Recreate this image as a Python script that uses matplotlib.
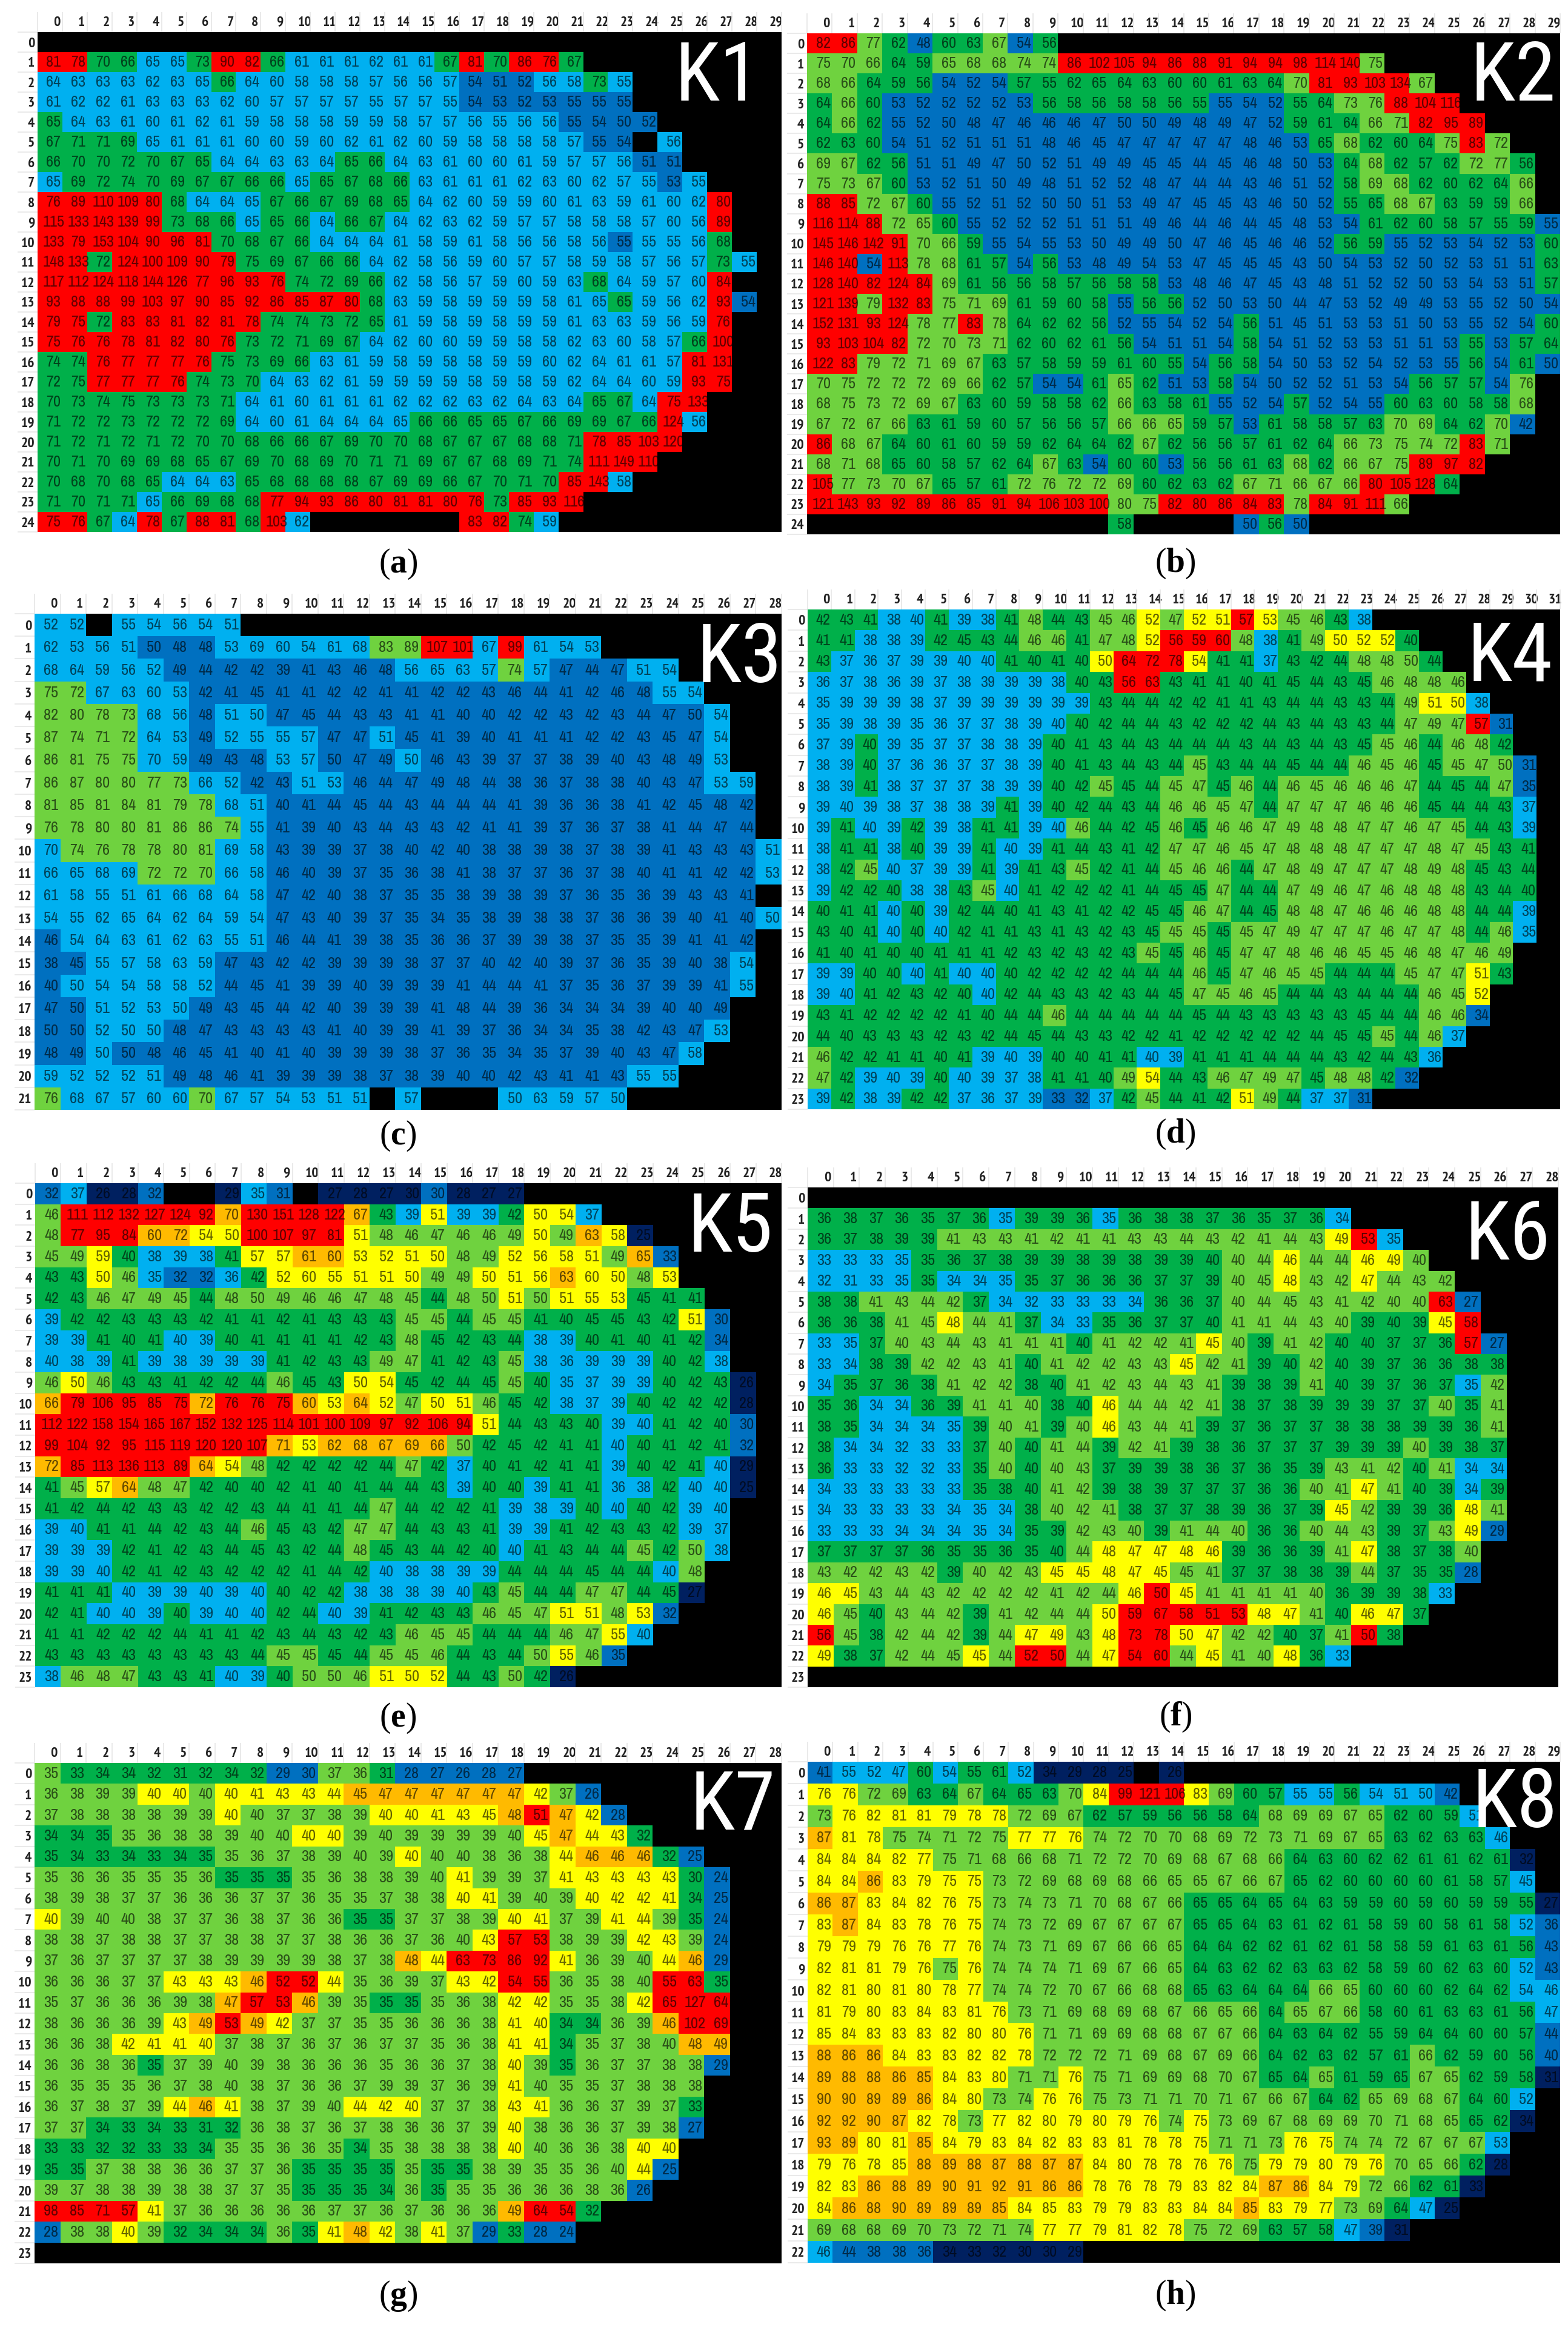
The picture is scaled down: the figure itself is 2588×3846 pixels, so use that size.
import numpy as np
import matplotlib
matplotlib.use("Agg")
import matplotlib.pyplot as plt
from matplotlib.colors import ListedColormap, BoundaryNorm
import logging
logging.getLogger('matplotlib.font_manager').setLevel(logging.ERROR)

NARROW = ['Archivo Narrow', 'PT Sans Narrow', 'Liberation Sans', 'DejaVu Sans']
NARROW_BOLD = ['PT Sans Narrow', 'Archivo Narrow', 'Liberation Sans', 'DejaVu Sans']
THIN = ['Roboto Condensed', 'Archivo Narrow', 'Liberation Sans', 'DejaVu Sans']
plt.rcParams['font.family'] = NARROW
plt.rcParams['mathtext.fontset'] = 'custom'
plt.rcParams['mathtext.rm'] = 'Liberation Serif'
plt.rcParams['mathtext.bf'] = 'Liberation Serif:bold'

# A value of 0 is an empty (black) cell. Fractions keep the colour class of values that print alike.
K1 = [
[],
[81,78,70,66,64.6,64.6,73,90,82,66,61,61,61,62,61,61,67,81,70,86,76,67],
[64,63,63,63,62,63,64.6,66,64,60,58,58,58,57,56,56,57,54,51,52,56,58,73,55],
[61,62,62,61,63,63,63,62,60,57,57,57,57,55,57,57,55,54,53,52,53,54.6,54.6,54.6],
[65,64,63,61,60,61,62,61,59,58,58,58,59,59,58,57,57,56,55,56,56,54.6,54,50,52],
[67,71,71,69,64.6,61,61,61,60,60,59,60,62,61,62,60,59,58,58,58,58,57,54.6,54,0,56],
[66,70,70,72,70,67,65,64,64,63,63,64,65,66,64,63,61,60,60,61,59,57,57,56,51,51],
[64.6,69,72,74,70,69,67,67,66,66,64.6,65,67,68,66,63,61,61,61,62,63,60,62,57,55,53,55],
[76,89,110,109,80,68,64,64,64.6,67,66,67,69,68,65,64,62,60,59,59,60,61,63,59,61,60,62,80],
[115,133,143,139,99,73,68,66,64.6,65,66,64,66,67,64,62,63,62,59,57,57,58,58,58,57,60,56,89],
[133,79,153,104,90,96,81,70,68,67,66,64,64,64,61,58,59,61,58,56,56,58,56,54.6,55,55,56,68],
[148,133,72,124,100,109,90,79,74.6,69,67,66,66,64,62,58,56,59,60,57,57,58,59,58,57,56,57,73,55],
[117,112,124,118,144,126,77,96,93,76,74,72,69,66,62,58,56,57,59,60,59,63,68,64,59,57,60,84],
[93,88,88,99,103,97,90,85,92,86,85,87,80,68,63,59,58,59,59,59,58,61,64.6,65,59,56,62,93,54],
[79,75,72,83,83,81,82,81,78,74,74,73,72,65,61,59,58,59,58,59,59,61,63,63,59,56,59,76],
[75,76,76,78,81,82,80,76,73,72,71,69,67,64,62,60,60,59,59,58,58,62,63,60,58,57,66,100],
[74,74,76,77,77,77,76,74.6,73,69,66,63,61,59,58,59,58,58,59,59,60,62,64,61,61,57,81,131],
[72,74.6,77,77,77,76,74,73,70,64,63,62,61,59,59,59,59,58,59,58,59,62,64,64,60,59,93,75],
[70,73,74,74.6,73,73,73,71,64,61,60,61,61,61,62,62,62,63,62,64,63,64,65,67,64,75,133],
[71,72,72,73,72,72,72,69,64,60,61,64,64,64,64.6,66,66,65,65,67,66,69,69,67,66,124,56],
[71,72,71,72,71,72,70,70,68,66,66,67,69,70,70,68,67,67,67,68,68,71,78,85,103,120],
[70,71,70,69,69,68,65,67,69,70,68,69,70,71,71,69,67,67,68,69,71,74,111,149,110],
[70,68,70,68,65,64,64,63,65,68,68,68,68,67,69,69,66,67,70,71,70,85,143,58],
[71,70,71,71,64.6,66,69,68,68,77,94,93,86,80,81,81,80,76,73,85,93,116],
[75,76,67,64,78,67,88,81,68,103,62,0,0,0,0,0,0,83,82,74,59],
]
K2 = [
[82,86,77,62,48,60,63,67,54,56],
[75,70,66,64,59,65,68,68,74,74,86,102,105,94,86,88,91,94,94,98,114,140,75],
[68,66,64,59,56,54,52,54,57,55.4,62,64.6,64,63,60,60,61,63,64,70,81,93,103,134,67],
[64,66,60,53,52,52,52,52,53,56,58,56,58,58,56,55.4,55,54,52,55.4,64,73,76,88,104,116],
[64,66,62,55,52,50,48,47,46,46,46,47,50,50,49,48,49,47,52,59,61,64,66,71,82,95,89],
[62,63,60,54,51,52,51,51,51,48,46,45,47,47,47,47,47,48,46,53,64.6,68,62,60,64,75,83,72],
[69,67,62,56,51,51,49,47,50,52,51,49,49,45,45,44,45,46,48,50,53,64,68,62,57,62,72,77,56],
[75,73,67,60,53,52,51,50,49,48,51,52,52,48,47,44,44,43,46,51,52,58,69,68,62,60,62,64,66],
[88,85,72,67,60,55,52,51,52,50,50,51,53,49,47,45,45,43,46,50,52,55.4,64.6,68,67,63,59,59,66],
[116,114,88,72,65,60,55,52,52,52,51,51,51,49,46,44,46,44,45,48,53,54,61,62,60,58,57,55.4,59,55],
[145,146,142,91,70,66,59,55,54,55,53,50,49,49,50,47,46,45,46,46,52,56,59,55,52,53,54,52,53,60],
[146,140,54,113,78,68,61,57,54,56,53,48,49,54,53,47,45,45,45,43,50,54,53,52,50,52,53,51,51,63],
[128,140,82,124,84,69,61,56,56,58,57,56,58,58,53,48,46,47,45,43,48,51,52,52,50,53,54,53,51,57],
[121,139,79,132,83,75,71,69,61,59,60,58,55,56,56,52,50,53,50,44,47,53,52,49,49,53,55,52,50,54],
[152,131,93,124,78,77,83,78,64,62,62,56,52,55,54,52,54,56,51,45,51,53,53,51,50,53,55,52,54,60],
[93,103,104,82,72,70,73,71,62,60,62,61,56,54,51,51,54,58,54,51,52,53,53,51,51,53,55.4,53,57,64],
[122,83,79,72,71,69,67,63,57,58,59,59,61,60,55.4,54,56,58,54,50,53,52,54,52,53,55,56,54,61,50],
[70,75,72,72,72,69,66,62,57,54,54,61,65,62,51,53,58,54,50,52,52,51,53,54,56,57,57,54,76],
[68,75,73,72,69,67,63,60,59,58,58,62,66,63,58,61,55,52,54,57,52,54,55,60,63,60,58,58,68],
[67,72,67,66,63,61,59,60,57,56,56,57,66,66,65,59,57,53,61,58,58,57,63,70,69,64,62,70,42],
[86,68,67,64,60,61,60,59,59,62,64,64,62,67,62,56,56,57,61,62,64,66,73,75,74,72,83,71],
[68,71,68,64.6,60,58,57,62,64,67,63,54,60,60,53,56,56,61,63,68,62,66,67,75,89,97,82],
[105,77,73,70,67,64.6,57,61,72,76,72,72,69,60,62,63,62,67,71,66,67,66,80,105,128,64],
[121,143,93,92,89,86,85,91,94,106,103,100,79.6,75,82,80,86,84,83,78,84,91,111,66],
[0,0,0,0,0,0,0,0,0,0,0,0,58,0,0,0,0,50,56,50],
]
K3 = [
[52,52,0,55,54,56,54,51],
[62,53,56,51,49.6,48,48,53,69,60,54,61,68,83,89,107,101,67,99,61,54,53],
[68,64,59,56,52,49,44,42,42,39,41,43,46,48,56,65,63,57,74,57,47,44,47,51,54],
[75,72,67,63,60,53,42,41,45,41,41,42,42,41,41,42,42,43,46,44,41,42,46,48,55,54],
[82,80,78,73,68,56,48,51,50,47,45,44,43,43,41,41,40,40,42,42,43,42,43,44,47,49.6,54],
[87,74,71,72,64,53,49,52,55,55,57,47,47,51,45,41,39,40,41,41,41,42,42,43,45,47,54],
[86,81,75,75,69.6,59,49,43,48,53,57,49.6,47,49,50,46,43,39,37,37,38,39,40,43,48,49,53],
[86,87,80,80,77,73,66,52,42,43,51,53,46,44,47,49,48,44,38,36,37,38,38,40,43,47,53,59],
[81,85,81,84,81,79,78,68,51,40,41,44,45,44,43,44,44,44,41,39,36,36,38,41,42,45,48,42],
[76,78,80,80,81,86,86,74,55,41,39,40,43,44,43,43,42,41,41,39,37,36,37,38,41,44,47,44],
[69.6,74,76,78,78,80,81,69,58,43,39,39,37,38,40,42,40,38,38,39,38,37,38,39,41,43,43,43,51],
[66,65,68,69,72,72,70,66,58,46,40,39,37,35,36,38,41,38,37,37,36,37,38,40,41,41,42,42,53],
[61,58,55,51,61,66,68,64,58,47,42,40,38,37,35,35,38,39,38,39,37,36,35,36,39,43,43,41],
[54,55,62,65,64,62,64,59,54,47,43,40,39,37,35,34,35,38,39,38,38,37,36,36,39,40,41,40,50],
[46,54,64,63,61,62,63,55,51,46,44,41,39,38,35,36,36,37,39,39,38,37,35,35,39,41,41,42],
[38,45,55,57,58,63,59,47,43,42,42,39,39,39,38,37,37,40,42,40,39,37,36,35,39,40,38,54],
[40,50,54,54,58,58,52,44,45,41,39,39,40,39,39,39,41,44,44,41,37,35,36,37,39,39,41,55],
[47,49.6,51,52,53,50,49,43,45,44,42,40,39,39,39,41,48,44,39,36,34,34,34,39,40,40,49],
[49.6,49.6,52,50,50,48,47,43,43,43,43,41,40,39,39,41,39,37,36,34,34,35,38,42,43,47,53],
[48,49,50,49.6,48,46,45,41,40,41,40,39,39,39,38,37,36,35,34,35,37,39,40,43,47,58],
[59,52,52,52,51,49,48,46,41,39,39,39,38,37,38,39,40,40,42,43,41,41,43,55,55],
[76,68,67,57,60,60,70,67,57,54,53,51,51,0,57,0,0,0,50,63,59,57,50],
]
K4 = [
[42,43,41,38,39.6,41,39,38,41,48,44,43,45,46,52,47,52,51,57,53,45,46,43,38],
[41,41,38,38,39,42,44.6,43,44,46,46,41,47,48,52,56,59,60,48,38,41,49,50,52,52,40],
[43,37,36,37,39,39,39.6,39.6,41,40,41,40,50,64,72,78,54,41,41,37,43,42,44,48,48,49.6,44],
[36,37,38,36,39,37,38,39,39,39,38,40,43,56,63,43,41,41,40,41,44.6,44,43,44.6,46,48,48,46],
[35,39,39,39,38,37,39,39,39,39,39,39,43,44,44,42,42,41,41,43,44,44,43,43,44,49,51,50,38],
[35,39,38,39,35,36,37,37,38,39,39.6,40,42,44,44,43,42,42,42,44,43,44,43,43,44,47,49,47,57,31],
[37,39,40,39,35,37,37,38,38,39,40,41,43,44,43,44,44,44,43,44,43,44,43,44.6,45,46,44,46,48,42],
[38,39,40,37,36,36,37,37,38,39,40,41,43,44,43,44,45,43,44,44,44.6,44,44,46,45,46,44.6,45,47,49.6,31],
[38,39,41,38,37,37,37,38,39,39,40,42,45,44.6,44,45,47,44.6,46,44,46,45,46,46,46,47,44,44.6,44,47,34.6],
[39,39.6,39,38,37,38,38,39,41,39,40,42,44,43,44,46,46,45,47,44,47,47,47,46,46,46,44.6,44,44,43,37],
[39,41,39.6,39,42,39,38,41,41,39,39.6,46,44,42,44.6,46,44.6,46,46,47,49,48,48,47,47,46,47,45,44,43,39],
[38,41,41,38,40,39,39,41,39.6,39,41,44,43,41,42,47,47,46,45,47,48,48,48,47,47,47,48,47,45,43,41],
[38,42,45,39.6,37,39,39,41,39,41,43,45,42,41,44,45,46,46,44,47,48,49,47,47,47,48,49,48,44.6,43,44],
[39,42,42,40,38,38,43,45,39.6,41,42,42,42,41,44,44.6,44.6,47,44,44,47,49,46,47,46,48,48,48,43,44,40],
[40,41,41,39.6,40,39,42,44,40,41,43,41,42,42,44.6,44.6,46,47,44,44.6,48,48,47,46,46,46,48,48,44,44,39],
[43,40,41,39.6,40,39.6,42,41,41,43,41,43,42,43,44.6,45,45,44.6,45,47,49,47,47,47,46,47,47,48,44,46,35],
[41,40,41,40,40,41,41,41,42,43,42,43,42,43,45,44.6,46,44.6,47,47,48,46,46,45,45,46,48,47,46,49],
[39,39,40,40,39.6,41,39.6,39.6,40,42,42,42,42,44,44,44,46,44.6,47,46,45,45,44,44,44,45,47,47,51,43],
[39,39.6,41,42,43,42,40,39.6,42,44,43,43,42,43,44,44.6,47,45,46,45,44,44,43,44,44,44,46,45,52],
[43,41,42,42,42,42,41,40,44,44,46,44,44,44,44,44,44.6,44,43,43,43,43,43,44.6,44,44,46,46,34],
[44,40,43,43,43,42,43,42,44,44.6,44,43,43,42,42,41,42,42,42,42,42,44,44.6,44.6,45,44,46,37],
[46,42,42,41,41,40,41,39,39.6,39,40,40,41,41,39.6,39,41,41,41,44,44,44,43,42,44,43,36],
[47,42,39,39.6,39,40,39.6,39,37,38,41,41,40,49,54,44,43,46,47,49,47,44.6,48,48,42,32],
[39,42,38,39,42,42,37,36,37,39,33,32,37,42,45,44,41,42,51,49,44,37,37,31],
]
K5 = [
[32,37,26,28,32,0,0,29,35,31,0,27,28,27,29.6,30,28,27,27],
[46,111,112,132,127,124,92,70,130,151,128,122,67,43,39,51,39,39,42,50,54,37],
[48,77,95,84,60,72,54,50,100,107,97,81,51,48,46,47,46,46,49,50,49,63,58,25],
[45,49,59,40,38,39,38,41,57,57,61,60,53,52,51,50,48,49,52,56,58,51,49,65,33],
[43,43,50,46,35,32,32,36,42,52,59.6,55,51,51,50,49,49,50,51,56,63,59.6,50,48,53],
[42,43,46,47,49,45,44,48,49.6,49,46,46,47,48,45,44,48,49.6,51,49.6,51,55,53,44.6,41,41],
[39,42,42,43,43,43,42,41,41,42,41,43,43,43,45,45,44,45,45,41,40,44.6,44.6,43,42,51,30],
[39,39,41,40,41,39.6,39,40,41,41,41,41,42,43,48,44.6,42,43,44,38,39,40,41,40,41,42,34],
[39.6,38,39,41,39,38,39,39,39,41,42,43,43,49,47,41,42,43,45,38,36,39,39,39,40,42,38],
[46,50,46,43,43,41,42,42,44,46,44.6,43,50,54,44.6,42,44,44.6,45,40,35,37,39,39,40,42,43,26],
[66,79,106,95,85,75,72,76,76,75,60,53,64,52,47,50,51,46,44.6,42,38,37,39,40,42,42,42,28],
[112,122,158,154,165,167,152,132,125,114,101,100,109,97,92,106,94,51,44,43,43,40,39,39.6,41,42,40,30],
[99,104,92,95,115,119,120,120,107,71,53,62,68,67,69,66,49.6,42,44.6,42,41,41,39.6,40,41,42,41,32],
[72,85,113,136,113,89,64,54,48,42,42,42,42,44,47,42,37,40,41,42,41,41,39,40,42,41,39.6,29],
[41,45,57,64,48,47,42,40,40,42,41,40,41,44,44,43,39,40,40,39,41,41,36,38,42,39.6,39.6,25],
[41,42,44,42,43,43,42,42,43,44,41,41,44,47,44,42,42,41,39,38,39,40,39.6,40,42,39,39.6],
[39,39.6,41,41,44,42,43,44,46,44.6,43,42,47,47,44,43,43,41,39,39,41,42,43,43,42,39,37],
[39,39,39,42,41,42,43,44,44.6,43,42,44,48,44.6,43,44,42,40,39.6,41,43,44,44,45,42,49.6,38],
[39,39,39.6,42,41,42,43,42,42,42,41,44,42,39.6,38,38,39,39,44,44,44,44.6,44,44,39.6,48],
[41,41,41,39.6,39,39,39.6,39,39.6,40,42,42,38,38,38,39,39.6,43,45,44,44,47,47,44,44.6,27],
[42,41,39.6,39.6,39,40,39,39.6,39.6,42,44,39.6,39,41,42,43,43,46,45,47,51,51,48,53,32],
[41,41,42,42,42,44,41,41,42,43,44,43,42,43,46,45,45,44,44,44,46,47,55,39.6],
[43,43,43,43,43,43,43,43,44,45,45,44.6,44,45,45,46,44,43,44,49.6,55,46,34.6],
[38,46,48,47,43,43,41,39.6,39,40,49.6,49.6,46,51,50,52,44,43,49.6,42,26],
]
K6 = [
[],
[36,38,37,36,35,37,36,34.6,39,39,36,34.6,36,38,38,37,36,35,37,36,34],
[36,37,38,39,39,41,43,43,41,42,41,41,43,43,44,43,42,41,44,43,49,53,34.6],
[33,33,33,34.6,35,36,37,38,39,39,38,39,38,39,39,39.6,40,44,46,44,44,46,49,40],
[32,31,33,34.6,35,34,34,34.6,35,37,36,36,36,37,37,39,40,44.6,48,43,42,47,44,43,42],
[38,38,41,43,44,42,37,34,32,33,33,33,34,36,36,37,40,44,44.6,43,41,42,40,40,63,27],
[36,36,38,41,44.6,48,44,41,37,34,33,35,36,37,37,39.6,41,41,44,43,40,39,39.6,39,45,58],
[33,34.6,37,40,43,44,43,41,41,41,39.6,41,42,42,41,45,40,39,41,42,39.6,39.6,37,37,36,57,27],
[33,34,38,39,42,42,43,41,39.6,41,42,42,43,43,45,42,41,39,39.6,42,39.6,39,37,36,36,38,38],
[34,35,37,36,38,41,42,42,38,39.6,41,42,43,44,43,41,39,38,39,41,39.6,39,37,36,37,34.6,42],
[35,36,34,34,36,39,41,41,40,38,39.6,46,44,44,42,41,38,37,38,39,39,39,37,37,40,35,41],
[38,35,34,34,34,34.6,39,40,41,39,40,46,43,44,41,39,37,36,37,37,38,38,38,39,39,36,41],
[38,34,34,32,33,33,37,40,39.6,41,44,39,42,41,39,38,36,37,37,37,39,39,39,40,39,38,37],
[36,33,33,32,32,33,35,40,39.6,40,43,37,39,39,38,36,37,36,35,39,43,41,42,39.6,41,34,34],
[34,33,33,33,33,33,35,38,39.6,41,42,39,38,39,37,37,37,36,36,40,41,47,41,39.6,39,34,39],
[34,33,33,33,33,34,34.6,34,38,40,42,41,38,37,37,38,39,36,37,39,45,42,39,39,36,48,41],
[33,33,33,34,34,34,34.6,34,35,39,42,43,40,39,41,44,40,36,36,40,44,43,39,37,43,49,29],
[37,37,37,37,36,35,35,36,35,39.6,44,48,47,47,48,46,39,36,36,39,41,47,38,37,38,40],
[43,42,42,43,42,39,40,42,43,45,45,48,47,45,44.6,41,37,37,38,38,39,44,37,35,35,28],
[46,45,43,44,43,42,42,42,42,41,42,44,46,50,45,41,41,41,41,40,36,39,39,38,33],
[46,44.6,39.6,43,44,42,39,41,42,44,44,49.6,59,67,58,51,53,48,47,41,39.6,46,47,37],
[56,44.6,38,42,44,42,39,44,47,49,43,48,73,78,49.6,47,42,42,39.6,37,41,50,38],
[49,38,37,42,44,44.6,45,44,52,50,44,47,54,60,44,45,41,40,48,36,33],
[],
]
K7 = [
[35,33,34,34,32,31,32,34,32,29,29.6,37,36,31,28,27,26,28,27],
[36,38,39,39,40,40,39.6,40,41,43,43,44,45,47,47,47,47,47,47,42,37,26],
[37,38,38,38,38,39,39,40,39.6,37,37,38,39,40,40,41,43,44.6,48,51,47,42,28],
[34,34,34.6,35,36,38,38,39,39.6,39.6,40,40,39,39.6,39,39,39,39,39.6,44.6,47,44,43,32],
[34.6,34,33,34,33,34,34.6,35,36,37,38,39,39.6,39,40,39.6,39.6,38,36,38,44,46,46,46,32,25],
[35,36,36,35,35,35,36,34.6,34.6,34.6,35,36,38,38,39,39.6,41,39,39,37,41,43,43,43,43,30,24],
[38,39,38,37,37,36,36,36,37,37,36,35,35,37,38,38,40,41,39,39.6,39,40,42,42,41,34,25],
[40,39,39.6,39.6,38,37,37,36,38,37,36,36,34.6,34.6,37,37,38,39,40,41,37,39,41,44,39,34.6,24],
[38,38,37,38,38,37,37,38,38,37,37,38,36,36,37,36,39.6,43,57,53,38,39,39,42,43,39,24],
[37,36,37,37,37,37,38,39,39,39,39,38,37,38,48,44,63,73,86,92,41,36,39,39.6,44,46,29],
[36,36,36,37,37,43,43,43,46,52,52,44,35,36,39,37,43,42,54,55,36,35,38,39.6,55,63,34.6],
[35,37,36,36,36,39,38,47,57,53,46,39,35,34.6,34.6,35,36,38,42,42,35,35,38,42,65,127,64],
[38,36,36,36,39,43,49,53,49,42,37,37,35,35,36,36,36,38,41,40,34,34,36,39,46,102,69],
[36,36,38,42,41,41,40,37,38,37,36,37,36,37,37,35,36,38,41,41,34,35,37,38,39.6,48,49],
[36,36,38,36,34.6,37,39,39.6,39,38,36,36,36,35,36,36,37,38,40,39,34.6,36,37,37,38,38,29],
[36,35,35,35,36,37,38,39.6,38,37,36,36,37,39,39,37,36,39,41,39.6,35,35,37,38,38,38],
[36,37,38,37,39,44,46,41,38,37,39,39.6,44,42,40,37,37,38,43,41,36,36,37,39,37,33],
[37,37,34,33,34,33,31,32,36,38,37,36,37,38,36,36,37,39,40,38,36,36,37,39,38,27],
[33,33,32,32,33,33,34,35,35,36,36,35,34,35,38,38,38,38,40,39.6,36,36,38,40,40],
[34.6,34.6,37,38,38,36,36,37,37,36,34.6,34.6,34.6,34.6,35,34.6,34.6,38,39,35,35,36,39.6,44,25],
[39,37,38,38,39,38,38,37,37,35,34.6,34.6,34.6,34,36,34.6,35,35,36,36,36,38,36,26],
[98,85,71,57,41,37,36,36,36,36,36,37,37,36,37,36,36,36,49,64,54,32],
[28,38,38,40,39,32,34,34,34,36,34.6,41,48,42,38,41,37,29,33,28,24],
[],
]
K8 = [
[41,54.6,52,47,60,54,55,61,52,34,29,28,25,0,26],
[76,76,72,69,63,64,67,64,64.6,63,70,84,99,121,106,83,69,60,57,54.6,54.6,56,54,51,50,42],
[73,76,82,81,81,79,78,78,72,69,67,62,57,59,56,56,58,64,68,69,69,67,65,62,60,59,51],
[87,81,78,74.6,74,71,72,74.6,77,77,76,74,72,70,70,68,69,72,73,71,69,67,65,63,62,63,63,46],
[84,84,84,82,77,74.6,71,68,66,68,71,72,72,70,69,68,67,68,66,64,63,60,62,62,61,61,62,61,32],
[84,84,86,83,79,75,75,73,72,69,68,69,68,66,65,65,67,66,67,64.6,62,60,60,60,60,61,58,57,45],
[86,87,83,84,82,76,75,73,74,73,71,70,68,67,66,64.6,64.6,64,64.6,64,63,59,59,60,59,60,59,59,55,27],
[83,87,84,83,78,76,75,74,73,72,69,67,67,67,67,64.6,64.6,64,63,61,62,61,58,59,60,58,61,58,52,36],
[79,79,79,76,76,77,76,74,73,71,69,67,66,66,65,64,64,62,62,61,62,61,58,58,59,61,63,61,56,43],
[82,81,81,79,76,74.6,76,74,74,74,71,69,67,66,65,64,63,62,62,63,63,62,58,59,60,62,63,60,52,43],
[82,81,80,81,80,78,77,74,74,72,70,67,66,68,68,64.6,63,64,64,64,66,65,60,60,60,62,64,62,54,46],
[81,79,80,83,84,83,81,76,73,71,69,68,69,68,67,66,65,66,64,65,67,66,58,60,61,63,63,61,56,47],
[84.6,84,83,83,83,82,80,80,76,71,71,69,69,68,68,67,67,66,64,63,64,62,55,59,64,64,60,60,57,44],
[88,86,86,84,83,83,82,82,78,72,72,72,71,69,68,67,69,66,64,62,63,62,57,61,66,62,59,60,56,40],
[89,88,88,86,85,84,83,80,71,71,76,74.6,71,69,69,68,70,67,64.6,64,65,61,59,64.6,67,65,62,59,58,31],
[90,90,89,89,86,84,80,73,74,76,76,74.6,73,71,71,70,71,67,66,67,64,62,65,69,68,67,64,60,52],
[92,92,90,87,82,78,73,77,82,80,79,80,79,76,74,75,73,69,67,68,69,69,70,71,68,65,64.6,62,34],
[93,89,80,81,85,84,79,83,84,82,83,83,81,78,78,75,71,71,73,76,75,74,74,72,67,67,67,53],
[79,76,78,84.6,88,89,88,87,88,87,87,84,80,78,78,76,76,74.6,79,79,80,79,76,70,65,66,62,28],
[82,83,86,88,89,90,91,92,91,86,86,78,76,78,79,83,82,84,87,86,84,79,72,66,62,61,33],
[84,86,88,90,89,89,89,85,84,84.6,83,79,79,83,83,84,84,85,83,79,77,73,69,64,47,25],
[69,68,68,69,70,73,72,71,74,77,77,79,81,82,78,74.6,72,69,63,57,58,47,39,31],
[46,44,38,38,36,34,33,32,30,30,29],
]

RED, ORANGE, YELLOW = '#FF0000', '#FFBA00', '#FFFF00'
LGREEN, GREEN = '#6FD23F', '#00B04A'
LBLUE, DBLUE, NAVY = '#00B0F0', '#0070C0', '#002060'
TOP = 1000

PANELS = [
 dict(name='K1', cap='a', data=K1, ncols=30, nrows=25, box=(62, 53, 1290, 878), capxy=(657, 931), kxy=(1255, 64),
      bounds=[0, 55, 65, 75, TOP], colors=[DBLUE, LBLUE, GREEN, RED]),
 dict(name='K2', cap='b', data=K2, ncols=30, nrows=25, box=(1332, 55, 2575, 882), capxy=(1940, 930), kxy=(2568, 64),
      bounds=[0, 55.25, 65, 80, TOP], colors=[DBLUE, GREEN, LGREEN, RED]),
 dict(name='K3', cap='c', data=K3, ncols=29, nrows=22, box=(57, 1013, 1290, 1832), capxy=(657, 1875), kxy=(1291, 1024),
      bounds=[0, 50, 70, 95, TOP], colors=[DBLUE, LBLUE, LGREEN, RED]),
 dict(name='K4', cap='d', data=K4, ncols=32, nrows=24, box=(1333, 1006, 2575, 1831), capxy=(1940, 1872), kxy=(2563, 1021),
      bounds=[0, 35, 40, 45, 50, 55, TOP], colors=[DBLUE, LBLUE, GREEN, LGREEN, YELLOW, RED]),
 dict(name='K5', cap='e', data=K5, ncols=29, nrows=24, box=(58, 1953, 1290, 2785), capxy=(657, 2836), kxy=(1276, 1964),
      bounds=[0, 30, 35, 40, 45, 50, 60, 75, TOP], colors=[NAVY, DBLUE, LBLUE, GREEN, LGREEN, YELLOW, ORANGE, RED]),
 dict(name='K6', cap='f', data=K6, ncols=29, nrows=24, box=(1333, 1960, 2572, 2785), capxy=(1940, 2834), kxy=(2559, 1977),
      bounds=[0, 30, 35, 40, 45, 50, TOP], colors=[DBLUE, LBLUE, GREEN, LGREEN, YELLOW, RED]),
 dict(name='K7', cap='g', data=K7, ncols=29, nrows=24, box=(57, 2910, 1290, 3736), capxy=(657, 3790), kxy=(1280, 2917),
      bounds=[0, 30, 35, 40, 45, 50, TOP], colors=[DBLUE, GREEN, LGREEN, YELLOW, ORANGE, RED]),
 dict(name='K8', cap='h', data=K8, ncols=30, nrows=23, box=(1333, 2908, 2575, 3735), capxy=(1940, 3789), kxy=(2571, 2914),
      bounds=[0, 35, 45, 55, 65, 75, 85, 95, TOP], colors=[NAVY, DBLUE, LBLUE, GREEN, LGREEN, YELLOW, ORANGE, RED]),
]

W, H = 2588, 3846
fig = plt.figure(figsize=(W / 100, H / 100), dpi=100, facecolor='white')

def grid(rows, nrows, ncols):
    m = np.zeros((nrows, ncols))
    for r, row in enumerate(rows[:nrows]):
        n = min(len(row), ncols)
        m[r, :n] = row[:n]
    return np.ma.masked_equal(m, 0)

for p in PANELS:
    x0, y0, x1, y1 = p['box']
    ax = fig.add_axes([x0 / W, 1 - y1 / H, (x1 - x0) / W, (y1 - y0) / H])
    nr, nc = p['nrows'], p['ncols']
    z = grid(p['data'], nr, nc)
    ax.set_facecolor('black')
    ax.pcolormesh(np.arange(nc + 1), np.arange(nr + 1), z,
                  cmap=ListedColormap(p['colors']), norm=BoundaryNorm(p['bounds'], len(p['colors'])),
                  linewidth=0, antialiased=False)
    ax.set_xlim(0, nc)
    ax.set_ylim(nr, 0)
    cw = (x1 - x0) / nc
    for s in ax.spines.values():
        s.set_visible(False)
    ax.xaxis.tick_top()
    ax.set_xticks(np.arange(nc) + 0.5 + 11 / cw)
    ax.set_xticklabels([str(i) for i in range(nc)], fontsize=17, fontweight='bold', color='#222222', family=NARROW_BOLD)
    ax.set_yticks(np.arange(nr) + 0.5)
    ax.set_yticklabels([str(i) for i in range(nr)], fontsize=17, fontweight='bold', color='#222222', family=NARROW_BOLD)
    ax.tick_params(axis='both', which='major', length=0, pad=3.5)
    ax.set_xticks(np.arange(nc + 1), minor=True)
    ax.set_yticks(np.arange(nr + 1), minor=True)
    ax.tick_params(axis='x', which='minor', length=24, width=1.2, color='#e6e6e6', top=True, bottom=False)
    ax.tick_params(axis='y', which='minor', length=24, width=1.2, color='#e6e6e6', left=True)
    for r in range(nr):
        for c in range(nc):
            v = z[r, c]
            if v is np.ma.masked:
                continue
            ax.text(c + 0.5 + 6 / cw, r + 0.5, str(int(round(float(v)))), ha='center', va='center',
                    fontsize=19, color='black', alpha=0.62)
    fig.text(p['kxy'][0] / W, 1 - p['kxy'][1] / H, p['name'], ha='right', va='top',
             fontsize=98, color='white', family=THIN)
    fig.text(p['capxy'][0] / W, 1 - p['capxy'][1] / H, '($\\mathbf{%s}$)' % p['cap'], ha='center', va='center',
             fontsize=40, family='Liberation Serif', color='black')

fig.savefig('out.png', dpi=100, facecolor='white')
